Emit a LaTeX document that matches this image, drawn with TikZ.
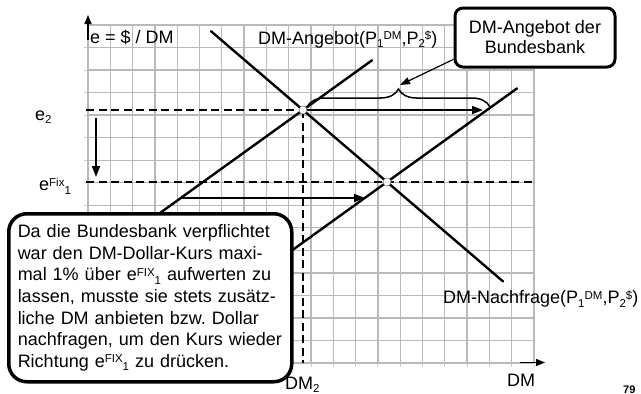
\documentclass[tikz,border=0pt]{standalone}
\usepackage{fontspec}
\setmainfont{Liberation Sans}
\usetikzlibrary{arrows.meta,decorations.pathreplacing,calc}
\frenchspacing

% raised and lowered small text for indices
\newcommand\hochs[1]{\raisebox{4.5pt}{\fontsize{11.5}{11.5}\selectfont #1}}
\newcommand\tiefs[1]{\raisebox{-3.5pt}{\fontsize{11.5}{11.5}\selectfont #1}}

\begin{document}
\begin{tikzpicture}[x=1pt,y=-1pt,
  every node/.style={font=\fontsize{18}{21.6}\selectfont, inner sep=0pt},
  gridline/.style={draw={rgb,255:red,185;green,185;blue,185}, line width=1.3pt},
  tickmark/.style={draw={rgb,255:red,205;green,205;blue,205}, line width=1pt},
  axisarrow/.style={line width=1.3pt, -{Triangle[length=9pt,width=7pt]}},
  curve/.style={line width=2.4pt, line cap=round},
  guide/.style={line width=2pt, dash pattern=on 8pt off 4.5pt},
  shiftarrow/.style={line width=1.8pt, -{Triangle[length=11pt,width=8pt]}},
  pointer/.style={line width=1.2pt, -{Triangle[length=10pt,width=7pt]}},
  crossing/.style={circle, fill=white, draw=gray, line width=0.6pt, minimum size=8pt},
  label/.style={anchor=base west},
  callout/.style={draw, line width=3pt, fill=white, align=center},
]
\useasboundingbox (0,0) rectangle (641,394);

% grid
\foreach \i in {0,...,20}
  \draw[gridline] ({88+\i*22.3},25) -- ({88+\i*22.3},363);
\foreach \j in {0,...,15}
  \draw[gridline] (88,{25+\j*22.533}) -- (534,{25+\j*22.533});
\foreach \j in {1,...,15}
  \draw[tickmark] (84,{25+\j*22.533}) -- (87,{25+\j*22.533});
\foreach \i in {1,...,20}
  \draw[tickmark] ({88+\i*22.3},364) -- ({88+\i*22.3},367);

% axes
\coordinate (yfoot) at (88,40);
\coordinate (ytip) at (88,15);
\coordinate (xfoot) at (520,362.5);
\coordinate (xtip) at (545,362.5);
\draw[axisarrow] (yfoot) -- (ytip);
\draw[axisarrow] (xfoot) -- (xtip);

% equilibrium points
\coordinate (E2) at (303,110);
\coordinate (F) at (387,182);

% guide lines
\coordinate (e2left) at (86,110);
\coordinate (fixleft) at (86,182);
\coordinate (fixright) at (534,182);
\coordinate (dmfoot) at (303,363);
\draw[guide] (e2left) -- (E2);
\draw[guide] (fixleft) -- (fixright);
\draw[guide] (E2) -- (dmfoot);

% demand and supply curves
\coordinate (Dtop) at (211,31.2);
\coordinate (Dbot) at (503,281.4);
\coordinate (S1top) at (372,60.3);
\coordinate (S1bot) at (150,220.2);
\coordinate (S2top) at (517,88.4);
\coordinate (S2bot) at (280,259);
\draw[curve] (Dtop) -- (Dbot);
\draw[curve] (S1bot) -- (S1top);
\draw[curve] (S2bot) -- (S2top);

% shift of supply
\coordinate (a1s) at (306,110);
\coordinate (a1e) at (483,110);
\coordinate (a2s) at (182,198);
\coordinate (a2e) at (365,198);
\draw[shiftarrow] (a1s) -- (a1e);
\draw[shiftarrow] (a2s) -- (a2e);

% drop of the rate
\coordinate (ds) at (96,118);
\coordinate (de) at (96,177);
\draw[shiftarrow] (ds) -- (de);

% brace over the additional supply
\coordinate (bl) at (307,107);
\coordinate (br) at (490,107);
\coordinate (bt) at (400,85);
\draw[line width=1.5pt, decorate, decoration={brace, amplitude=18pt}] (bl) -- (br);

% intersection markers
\node[crossing] (e2pt) at (E2) {};
\node[crossing] (fixpt) at (F) {};

% labels
\node[label] (ylab) at (90,43.5) {e = \$ / DM};
\node[label] (suplab) at (258,44) {DM-Angebot(P\tiefs{1}\hochs{DM},P\tiefs{2}\hochs{\$})};
\node[label] (demlab) at (443,303.5) {DM-Nachfrage(P\tiefs{1}\hochs{DM},P\tiefs{2}\hochs{\$})};
\node[label] (e2lab) at (35,120) {e\tiefs{2}};
\node[label] (efixlab) at (39,190.5) {e\hochs{Fix}\tiefs{1}};
\node[label] (dm2lab) at (285,389) {DM\tiefs{2}};
\node[label] (xlab) at (507,386) {DM};
\node[label, font=\bfseries\fontsize{11}{11}\selectfont] (page) at (623,393) {79};

% callouts
\node[callout, rounded corners=8pt, minimum width=160pt, minimum height=59pt,
      font=\fontsize{18}{20}\selectfont] (cb) at (535,37.5) {DM-Angebot der\\Bundesbank};
\draw[pointer] (cb.195) -- (bt);

\node[callout, line width=3.5pt, rounded corners=18pt, anchor=north west,
      minimum width=283pt, minimum height=168pt, text width=265pt,
      inner xsep=8pt, align=left] (note) at (7,212)
  {Da die Bundesbank verpflichtet\\
   war den DM-Dollar-Kurs maxi-\\
   mal 1\% über e\hochs{FIX}\tiefs{1} aufwerten zu\\
   lassen, musste sie stets zusätz-\\
   liche DM anbieten bzw. Dollar\\
   nachfragen, um den Kurs wieder\\
   Richtung e\hochs{FIX}\tiefs{1} zu drücken.};
\end{tikzpicture}
\end{document}
